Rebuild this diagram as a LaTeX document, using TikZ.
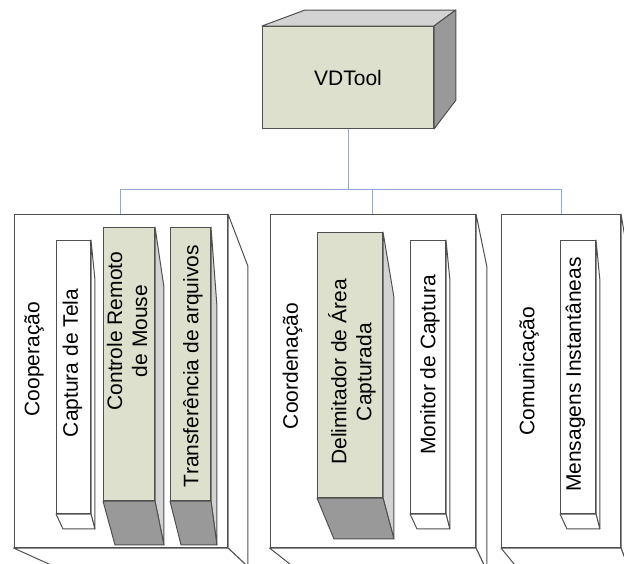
\documentclass[tikz,border=0pt]{standalone}
\usepackage{fontspec}
\setmainfont{Liberation Sans}
\usetikzlibrary{calc}
\definecolor{stone}{HTML}{DDE0CC}
\definecolor{edge}{HTML}{505050}
\definecolor{lightside}{HTML}{D3D3D3}
\definecolor{darkside}{HTML}{999999}
\definecolor{link}{HTML}{8EA9D2}

% face of a block: front edge #2--#3 pulled towards vanishing point #4 by #5
\newcommand{\boxface}[5][]{%
  \filldraw[#1] (#2) -- (#3) -- ($(#3)!#5!(#4)$) -- ($(#2)!#5!(#4)$) -- cycle;}

\begin{document}
\begin{tikzpicture}[x=1pt,y=-1pt,
    every node/.style={font=\fontsize{21}{25}\selectfont},
    front/.style={draw=edge,line width=1pt,inner sep=0pt,anchor=north west},
    lbl/.style={rotate=90,align=center,inner sep=0pt},
    side/.style={draw=edge,line width=1pt,line join=round},
    wire/.style={draw=link,line width=1pt}
  ]
  \useasboundingbox (0,0) rectangle (624,563);
  \clip (0,0) rectangle (624,563);

  % tool block
  \node[front,fill=stone,minimum width=171pt,minimum height=102pt] (vd) at (262,26) {VDTool};
  \boxface[side,fill=lightside]{vd.north west}{vd.north east}{611,-104}{0.123}
  \boxface[side,fill=darkside]{vd.north east}{vd.south east}{611,-104}{0.123}

  % the three groups
  \node[front,fill=white,minimum width=213.5pt,minimum height=333pt] (coop) at (13.5,214) {};
  \boxface[side,fill=white]{coop.north east}{coop.south east}{427,735}{0.1}
  \boxface[side,fill=white]{coop.south west}{coop.south east}{427,735}{0.1}
  \node[lbl] (coopT) at (34,359) {Cooperação};

  \node[front,fill=white,minimum width=205.5pt,minimum height=333pt] (coord) at (269.5,214) {};
  \boxface[side,fill=white]{coord.north east}{coord.south east}{598,806}{0.09}
  \boxface[side,fill=white]{coord.south west}{coord.south east}{598,806}{0.09}
  \node[lbl] (coordT) at (292.5,366) {Coordenação};

  \node[front,fill=white,minimum width=119pt,minimum height=333pt] (comm) at (501,214) {};
  \boxface[side,fill=white]{comm.north east}{comm.south east}{722,819}{0.09}
  \boxface[side,fill=white]{comm.south west}{comm.south east}{722,819}{0.09}
  \node[lbl] (commT) at (529,371) {Comunicação};

  % links
  \coordinate (bus) at (0,189);
  \draw[wire] (vd.south) -- (vd.south |- bus) -| (coop.north);
  \draw[wire] (vd.south |- bus) -| (coord.north);
  \draw[wire] (vd.south |- bus) -| (comm.north);

  % cooperation modules
  \node[front,fill=white,minimum width=34pt,minimum height=273pt] (cap) at (56,240) {};
  \boxface[side,fill=white]{cap.north east}{cap.south east}{135,683}{0.088}
  \boxface[side,fill=white]{cap.south west}{cap.south east}{135,683}{0.088}
  \node[lbl] (capT) at (72.5,363) {Captura de Tela};

  \node[front,fill=stone,minimum width=51pt,minimum height=273pt] (ctrl) at (103,227) {};
  \boxface[side,fill=lightside]{ctrl.north east}{ctrl.south east}{307,1248}{0.0588}
  \boxface[side,fill=darkside]{ctrl.south west}{ctrl.south east}{307,1248}{0.0588}
  \node[lbl] (ctrlT) at (127,331) {Controle Remoto\\de Mouse};

  \node[front,fill=stone,minimum width=40pt,minimum height=273pt] (transf) at (170,227) {};
  \boxface[side,fill=lightside]{transf.north east}{transf.south east}{258,852}{0.125}
  \boxface[side,fill=darkside]{transf.south west}{transf.south east}{258,852}{0.125}
  \node[lbl] (transfT) at (193,366) {Transferência de arquivos};

  % coordination modules
  \node[front,fill=stone,minimum width=65pt,minimum height=265pt] (delim) at (317,232) {};
  \boxface[side,fill=lightside]{delim.north east}{delim.south east}{503,947}{0.091}
  \boxface[side,fill=darkside]{delim.south west}{delim.south east}{503,947}{0.091}
  \node[lbl] (delimT) at (352,372) {Delimitador de Área\\Capturada};

  \node[front,fill=white,minimum width=35pt,minimum height=273pt] (mon) at (410,240) {};
  \boxface[side,fill=white]{mon.north east}{mon.south east}{489,683}{0.088}
  \boxface[side,fill=white]{mon.south west}{mon.south east}{489,683}{0.088}
  \node[lbl] (monT) at (430,365) {Monitor de Captura};

  % communication module
  \node[front,fill=white,minimum width=35pt,minimum height=273pt] (msg) at (560,240) {};
  \boxface[side,fill=white]{msg.north east}{msg.south east}{639,683}{0.088}
  \boxface[side,fill=white]{msg.south west}{msg.south east}{639,683}{0.088}
  \node[lbl] (msgT) at (575.5,374.6) {Mensagens Instantâneas};
\end{tikzpicture}
\end{document}
